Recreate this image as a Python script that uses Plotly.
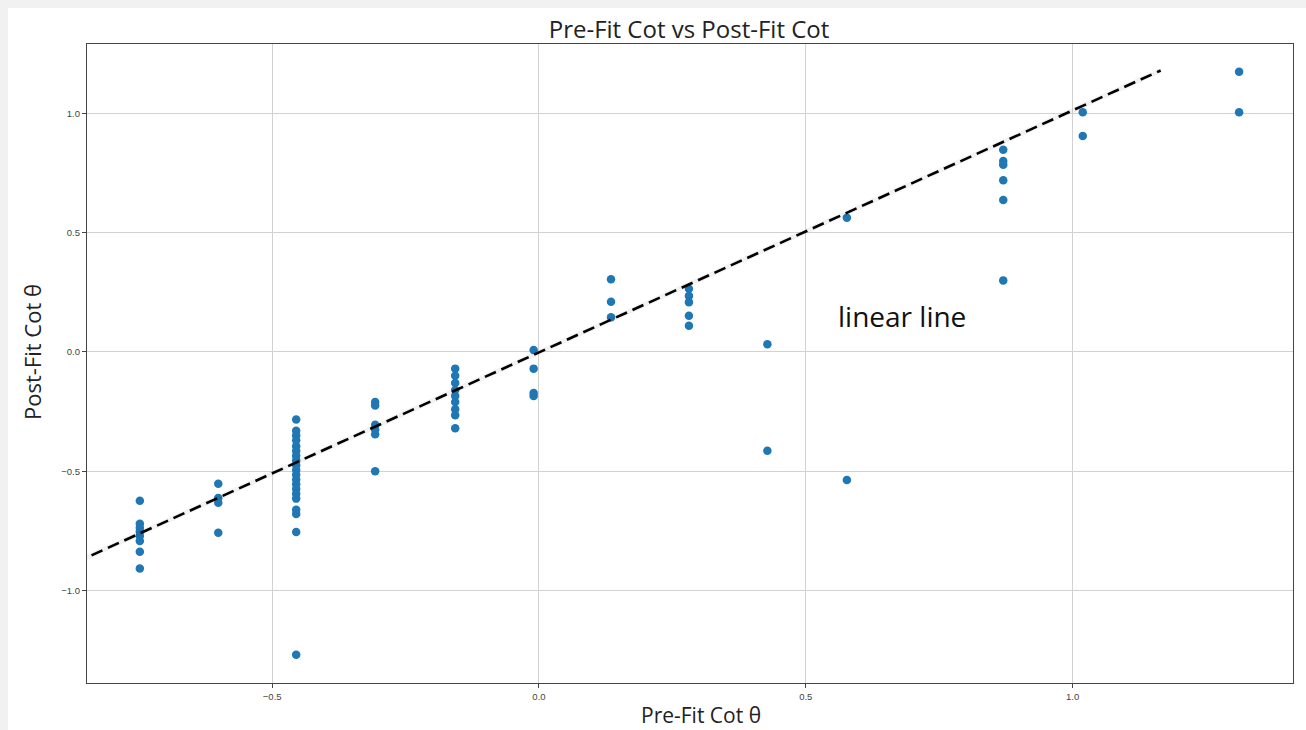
import plotly.graph_objects as go

# Pre-fit cot(theta) values, one per group of tracks
pre_fit = [-0.748, -0.601, -0.455, -0.307, -0.157, -0.010, 0.135, 0.281, 0.428, 0.577, 0.870, 1.019, 1.312]

# Post-fit cot(theta) values measured for each pre-fit value
post_fit = [
    [-0.624, -0.720, -0.737, -0.754, -0.772, -0.793, -0.838, -0.908],
    [-0.553, -0.612, -0.632, -0.758],
    [-0.283, -0.330, -0.350, -0.370, -0.395, -0.415, -0.435, -0.455, -0.475, -0.495,
     -0.515, -0.535, -0.555, -0.575, -0.595, -0.615, -0.662, -0.679, -0.755, -1.270],
    [-0.210, -0.225, -0.305, -0.325, -0.345, -0.500],
    [-0.070, -0.100, -0.130, -0.160, -0.185, -0.210, -0.240, -0.265, -0.320],
    [0.008, -0.070, -0.172, -0.185],
    [0.305, 0.210, 0.145],
    [0.265, 0.235, 0.208, 0.152, 0.110],
    [0.032, -0.414],
    [0.563, -0.537],
    [0.848, 0.800, 0.785, 0.720, 0.637, 0.300],
    [1.005, 0.905],
    [1.175, 1.005],
]

# Reference line endpoints
line_x = [-0.90, 1.165]
line_y = [-0.915, 1.180]

xs, ys = [], []
for x, group in zip(pre_fit, post_fit):
    for y in group:
        xs.append(x)
        ys.append(y)

fig = go.Figure()

fig.add_trace(go.Scatter(
    x=xs, y=ys, mode="markers",
    marker=dict(color="#1f77b4", size=8.5, line=dict(width=0)),
    showlegend=False, hoverinfo="x+y",
))

# faint shadow under the dashed line
fig.add_trace(go.Scatter(
    x=line_x, y=line_y, mode="lines",
    line=dict(color="rgba(0,0,0,0.05)", width=5),
    showlegend=False, hoverinfo="skip",
))
fig.add_trace(go.Scatter(
    x=line_x, y=line_y, mode="lines",
    line=dict(color="black", width=2.6, dash="12px,6px"),
    showlegend=False, hoverinfo="skip",
))

axis_common = dict(
    showgrid=True, gridcolor="#d2d2d2", gridwidth=1,
    zeroline=False,
    showline=True, linecolor="#444", linewidth=1.2, mirror=True,
    ticks="outside", ticklen=4, tickcolor="#444", tickwidth=1,
    tickfont=dict(family="Liberation Sans, DejaVu Sans", size=9.5, color="#444"),
)

fig.update_layout(
    width=1306, height=730,
    paper_bgcolor="#f1f1f1",
    plot_bgcolor="white",
    margin=dict(l=87, r=13, t=44, b=47),
    xaxis=dict(range=[-0.847, 1.413], tickvals=[-0.5, 0.0, 0.5, 1.0],
               ticktext=["\u22120.5", "0.0", "0.5", "1.0"], **axis_common),
    yaxis=dict(range=[-1.388, 1.291], tickvals=[-1.0, -0.5, 0.0, 0.5, 1.0],
               ticktext=["\u22121.0", "\u22120.5", "0.0", "0.5", "1.0"], **axis_common),
    title=dict(text="Pre-Fit Cot vs Post-Fit Cot", xref="container", yref="container",
               x=689 / 1306, y=1 - 30 / 730, xanchor="center", yanchor="middle",
               font=dict(family="Open Sans", size=24, color="#222")),
    shapes=[dict(type="rect", xref="paper", yref="paper", layer="below",
                 x0=(8 - 87) / 1206, x1=(1306 - 87) / 1206,
                 y0=(683 - 730) / 639, y1=(683 - 8) / 639,
                 fillcolor="white", line=dict(width=0))],
    annotations=[
        dict(text="Pre-Fit Cot \u03b8", xref="paper", yref="paper",
             x=(701 - 87) / 1206, y=(683 - 715) / 639, xanchor="center", yanchor="middle",
             showarrow=False, font=dict(family="Open Sans", size=21, color="#222")),
        dict(text="Post-Fit Cot \u03b8", xref="paper", yref="paper", textangle=-90,
             x=(32 - 87) / 1206, y=(683 - 352) / 639, xanchor="center", yanchor="middle",
             showarrow=False, font=dict(family="Open Sans", size=22, color="#222")),
        dict(text="linear line", xref="x", yref="y", x=0.556, y=0.151,
             xanchor="left", yanchor="middle", showarrow=False,
             font=dict(family="Open Sans", size=28, color="#111")),
    ],
)

fig.write_html("out.html")
